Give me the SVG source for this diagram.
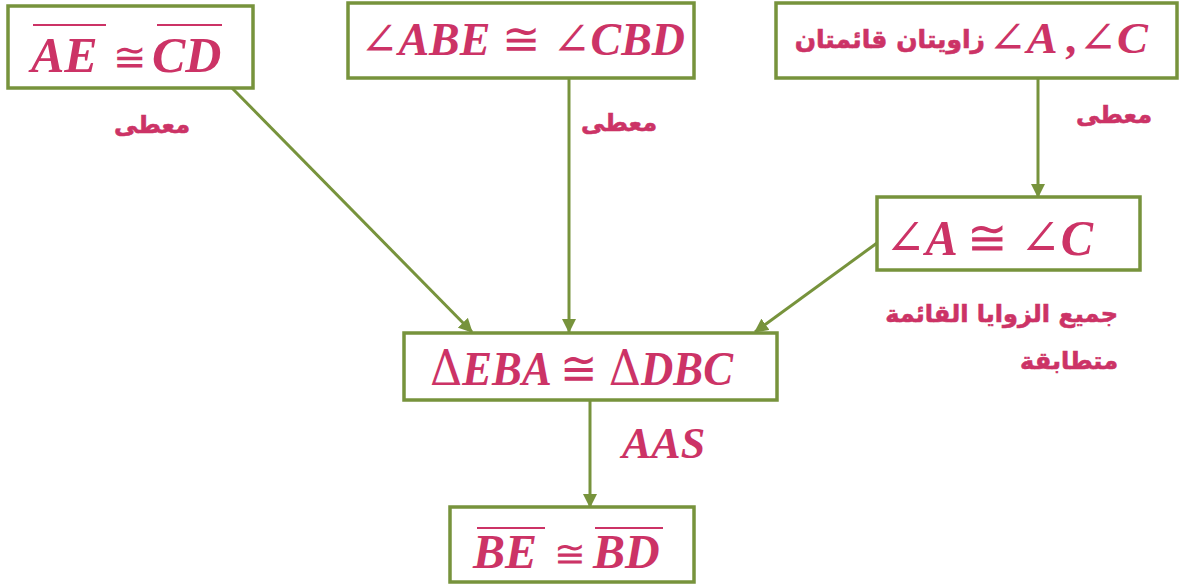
<svg xmlns="http://www.w3.org/2000/svg" width="1187" height="585" viewBox="0 0 1187 585">
<style>
.box{fill:#fff;stroke:#77933C;stroke-width:3.5}
.m{font-family:"Liberation Serif","Times New Roman",serif;font-weight:700;font-style:italic;fill:#CC3366}
.s{font-family:"DejaVu Serif",serif;font-weight:normal;font-style:normal;fill:#CC3366}
.ar{font-family:"DejaVu Sans",sans-serif;font-weight:bold;fill:#CC3366;font-size:24px;stroke:#CC3366;stroke-width:0.6}
.ov{stroke:#CC3366;stroke-width:2}
.c{stroke:#77933C;stroke-width:3;fill:none}
</style>
<defs>
<marker id="ah" markerWidth="14" markerHeight="14" refX="13" refY="7" orient="auto" markerUnits="userSpaceOnUse" viewBox="0 0 14 14">
<path d="M0,0 L14,7 L0,14 z" fill="#77933C"/>
</marker>
</defs>
<g id="connectors">
<line class="c" x1="232" y1="88" x2="472" y2="332" marker-end="url(#ah)"/>
<line class="c" x1="569" y1="78" x2="569" y2="332" marker-end="url(#ah)"/>
<line class="c" x1="1038" y1="78" x2="1038" y2="197" marker-end="url(#ah)"/>
<line class="c" x1="877" y1="243" x2="755" y2="332" marker-end="url(#ah)"/>
<line class="c" x1="590" y1="400" x2="590" y2="507" marker-end="url(#ah)"/>
</g>
<g id="n1">
<rect class="box" x="8" y="6" width="245" height="82"/>
<line class="ov" x1="33" y1="25" x2="106" y2="25"/>
<line class="ov" x1="157" y1="25" x2="222" y2="25"/>
<text class="m" font-size="50" x="31" y="72">AE</text>
<text class="s" font-size="40" x="113" y="71">≅</text>
<text class="m" font-size="50" x="152" y="72">CD</text>
</g>
<g id="n2">
<rect class="box" x="348" y="3" width="346" height="75"/>
<text class="m" font-size="46" x="360" y="55" textLength="325" lengthAdjust="spacingAndGlyphs"><tspan class="s">∠</tspan>ABE <tspan class="s">≅</tspan> <tspan class="s">∠</tspan>CBD</text>
</g>
<g id="n3">
<rect class="box" x="776" y="3" width="401" height="75"/>
<text class="ar" x="985" y="48" text-anchor="end" style="font-size:25px">زاويتان قائمتان</text>
<text class="m" font-size="44" x="988" y="53" textLength="160" lengthAdjust="spacingAndGlyphs"><tspan class="s">∠</tspan>A ,<tspan class="s">∠</tspan>C</text>
</g>
<g id="n4">
<rect class="box" x="877" y="197" width="263" height="73"/>
<text class="m" font-size="50" x="885" y="255" textLength="208" lengthAdjust="spacingAndGlyphs"><tspan class="s">∠</tspan>A <tspan class="s">≅</tspan> <tspan class="s">∠</tspan>C</text>
</g>
<g id="n5">
<rect class="box" x="404" y="333" width="373" height="67"/>
<text class="m" font-size="48" x="430" y="385" textLength="303" lengthAdjust="spacingAndGlyphs"><tspan class="s">Δ</tspan>EBA <tspan class="s">≅</tspan> <tspan class="s">Δ</tspan>DBC</text>
</g>
<g id="n6">
<rect class="box" x="450" y="507" width="244" height="75"/>
<line class="ov" x1="477" y1="528" x2="545" y2="528"/>
<line class="ov" x1="595" y1="528" x2="663" y2="528"/>
<text class="m" font-size="48" x="473" y="568">BE</text>
<text class="s" font-size="38" x="554" y="567">≅</text>
<text class="m" font-size="48" x="593" y="568">BD</text>
</g>
<g id="labels">
<text class="ar" x="190" y="133" text-anchor="end">معطى</text>
<text class="ar" x="657" y="131" text-anchor="end">معطى</text>
<text class="ar" x="1152" y="123" text-anchor="end">معطى</text>
<text class="ar" x="1118" y="322" text-anchor="end">جميع الزوايا القائمة</text>
<text class="ar" x="1118" y="369" text-anchor="end">متطابقة</text>
<text class="m" font-size="44" x="622" y="458">AAS</text>
</g>
</svg>
